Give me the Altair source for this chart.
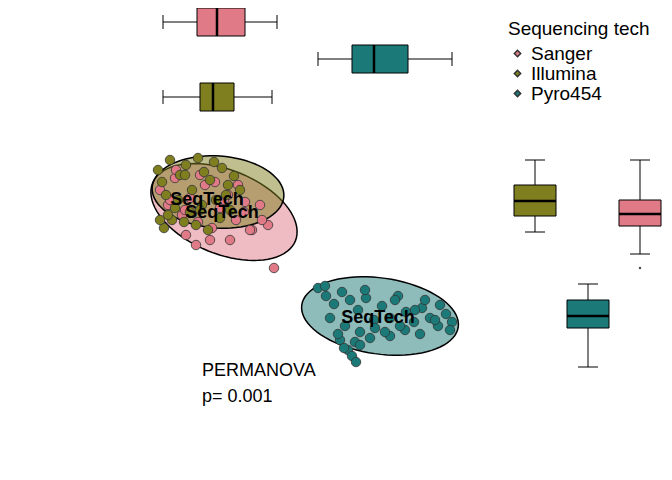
import altair as alt
import pandas as pd
import numpy as np

groups = ["Sanger", "Illumina", "Pyro454"]
colors = ["#E07A87", "#7F7F1F", "#1B7A78"]

sanger_x = [160,168,175,182,190,198,205,212,220,228,236,244,252,260,268,176,186,196,210,224,238,250,262,274,200,215,230,245,185,170]
sanger_y = [190,205,178,215,198,222,185,228,208,195,220,212,230,205,225,170,235,245,240,200,185,230,220,268,175,182,240,202,210,200]
illum_x = [158,162,166,170,175,180,186,192,198,204,210,216,222,228,234,240,172,184,196,208,220,164,178,190,202,214,226,168,200,230,160,185]
illum_y = [170,182,195,160,208,175,165,190,158,172,180,200,168,185,176,190,220,222,225,230,218,228,200,212,205,162,195,215,210,210,220,175]
pyro_x = [318,326,334,342,350,358,366,374,382,390,398,406,414,422,430,438,446,452,330,345,360,375,390,405,420,435,340,355,370,385,400,415,348,352,356,360,344,338,325,450,440,365,395,425]
pyro_y = [288,296,304,292,300,310,298,320,306,318,296,312,322,308,318,326,314,322,318,326,332,328,336,330,334,320,340,342,338,332,326,310,350,356,362,345,348,334,286,330,305,290,300,300]

top_lo = [163, 163, 318]; top_q1 = [197, 200, 352]; top_med = [217, 213, 374]
top_q3 = [245, 234, 408]; top_hi = [277, 272, 452]; top_c = [22, 97, 59]
right_lo = [254, 232, 367]; right_q1 = [226, 216, 328]; right_med = [214, 201, 316]
right_q3 = [200, 185, 300]; right_hi = [160, 160, 284]; right_c = [640, 535, 588]
outlier_x = [640]; outlier_y = [268]

ell_cx = [224, 218, 380]; ell_cy = [212, 192, 316]; ell_rx = [77, 66, 79]
ell_ry = [42, 36, 38]; ell_ang = [22, 4, 8]

lab_x = [207, 222, 378]; lab_y = [200, 213, 318]

X = alt.Scale(domain=[8, 664])
Y = alt.Scale(domain=[8, 472], reverse=True)
ax = dict(axis=None, scale=X)
ay = dict(axis=None, scale=Y)

pts = pd.DataFrame(
    [dict(x=a, y=b, g="Sanger") for a, b in zip(sanger_x, sanger_y)]
    + [dict(x=a, y=b, g="Illumina") for a, b in zip(illum_x, illum_y)]
    + [dict(x=a, y=b, g="Pyro454") for a, b in zip(pyro_x, pyro_y)])

rows = []
t = np.linspace(0, 2 * np.pi, 80, endpoint=False)
for i, g in enumerate(groups):
    a = np.radians(ell_ang[i])
    for k, tt in enumerate(t):
        ex = ell_rx[i] * np.cos(tt); ey = ell_ry[i] * np.sin(tt)
        rows.append(dict(g=g, o=k, x=ell_cx[i] + ex * np.cos(a) - ey * np.sin(a),
                         y=ell_cy[i] + ex * np.sin(a) + ey * np.cos(a)))
ell = pd.DataFrame(rows)

layers = []
for i, g in enumerate(groups):
    layers.append(alt.Chart(ell[ell.g == g]).mark_line(
        interpolate="linear-closed", fill=colors[i], fillOpacity=0.5,
        stroke="black", strokeWidth=1.5).encode(
        x=alt.X("x:Q", **ax), y=alt.Y("y:Q", **ay), order="o:Q"))

points = alt.Chart(pts).mark_point(filled=True, size=90, opacity=1,
                                   stroke="#333", strokeWidth=0.8).encode(
    x=alt.X("x:Q", **ax), y=alt.Y("y:Q", **ay),
    color=alt.Color("g:N", scale=alt.Scale(domain=groups, range=colors),
                    legend=alt.Legend(title="Sequencing tech", orient="none",
                                      legendX=500, legendY=12, symbolType="diamond",
                                      titleFontSize=19, labelFontSize=19,
                                      titleFont="Liberation Sans", labelFont="Liberation Sans",
                                      titleFontWeight="normal", symbolSize=40,
                                      labelColor="black", titleColor="black",
                                      rowPadding=0, padding=0, offset=0)))

labels = pd.DataFrame(dict(x=lab_x, y=lab_y, t=["SeqTech"] * 3))
lab = alt.Chart(labels).mark_text(fontSize=18, fontWeight="bold",
                                  font="Liberation Sans", color="black").encode(
    x=alt.X("x:Q", **ax), y=alt.Y("y:Q", **ay), text="t:N")

tb = pd.DataFrame(dict(lo=top_lo, q1=top_q1, med=top_med, q3=top_q3, hi=top_hi,
                       c=top_c, g=groups))
tb["y1"] = tb.c - 14; tb["y2"] = tb.c + 14
tb["w1"] = tb.c - 7; tb["w2"] = tb.c + 7
rb = pd.DataFrame(dict(lo=right_lo, q1=right_q1, med=right_med, q3=right_q3,
                       hi=right_hi, c=right_c, g=groups))
rb["x1"] = rb.c - 21; rb["x2"] = rb.c + 21
rb["w1"] = rb.c - 10; rb["w2"] = rb.c + 10
cs = alt.Scale(domain=groups, range=colors)

tw = alt.Chart(tb).mark_rule(color="black").encode(
    x=alt.X("lo:Q", **ax), x2="hi", y=alt.Y("c:Q", **ay))
tcap1 = alt.Chart(tb).mark_rule(color="black").encode(
    x=alt.X("lo:Q", **ax), y=alt.Y("w1:Q", **ay), y2="w2")
tcap2 = alt.Chart(tb).mark_rule(color="black").encode(
    x=alt.X("hi:Q", **ax), y=alt.Y("w1:Q", **ay), y2="w2")
tbox = alt.Chart(tb).mark_rect(stroke="black", strokeWidth=1).encode(
    x=alt.X("q1:Q", **ax), x2="q3", y=alt.Y("y1:Q", **ay), y2="y2",
    fill=alt.Fill("g:N", scale=cs, legend=None))
tmed = alt.Chart(tb).mark_rule(color="black", strokeWidth=2.5).encode(
    x=alt.X("med:Q", **ax), y=alt.Y("y1:Q", **ay), y2="y2")
rw = alt.Chart(rb).mark_rule(color="black").encode(
    y=alt.Y("lo:Q", **ay), y2="hi", x=alt.X("c:Q", **ax))
rcap1 = alt.Chart(rb).mark_rule(color="black").encode(
    y=alt.Y("lo:Q", **ay), x=alt.X("w1:Q", **ax), x2="w2")
rcap2 = alt.Chart(rb).mark_rule(color="black").encode(
    y=alt.Y("hi:Q", **ay), x=alt.X("w1:Q", **ax), x2="w2")
rbox = alt.Chart(rb).mark_rect(stroke="black", strokeWidth=1).encode(
    y=alt.Y("q1:Q", **ay), y2="q3", x=alt.X("x1:Q", **ax), x2="x2",
    fill=alt.Fill("g:N", scale=cs, legend=None))
rmed = alt.Chart(rb).mark_rule(color="black", strokeWidth=2.5).encode(
    y=alt.Y("med:Q", **ay), x=alt.X("x1:Q", **ax), x2="x2")
outl = alt.Chart(pd.DataFrame(dict(x=outlier_x, y=outlier_y))).mark_circle(
    color="black", size=6).encode(x=alt.X("x:Q", **ax), y=alt.Y("y:Q", **ay))

perm = alt.Chart(pd.DataFrame(dict(x=[202, 202], y=[371, 397],
                                   t=["PERMANOVA", "p= 0.001"]))).mark_text(
    align="left", fontSize=18, font="Liberation Sans", color="black").encode(
    x=alt.X("x:Q", **ax), y=alt.Y("y:Q", **ay), text="t:N")

chart = alt.layer(*layers, points, lab, tw, tcap1, tcap2, tbox, tmed,
                  rw, rcap1, rcap2, rbox, rmed, outl, perm
                  ).resolve_scale(color="independent", fill="independent").properties(
    width=656, height=464, padding=0, autosize="none").configure_view(stroke=None)

chart.save("out.html", embed_options={"renderer": "svg", "actions": False})
